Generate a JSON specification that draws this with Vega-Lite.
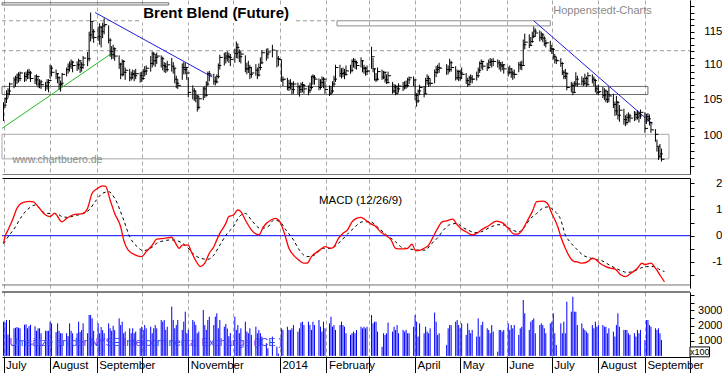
{
"$schema":"https://vega.github.io/schema/vega-lite/v6.json",
"padding":0,
"background":"white",
"bounds":"flush",
"spacing":4,
"config":{"view":{"stroke":null},"axis":{"labelFont":"Liberation Sans","labelColor":"#000","labelOverlap":false},"text":{"font":"Liberation Sans"}},
"datasets":{
"one":[{}],
"p":[
{"d":"2013-07-01","l":102.0,"h":104.6,"c":104.2,"v":2250},
{"d":"2013-07-02","l":103.8,"h":105.3,"c":105.1,"v":2200},
{"d":"2013-07-03","l":104.5,"h":106.3,"c":105.8,"v":2360},
{"d":"2013-07-04","l":105.2,"h":106.6,"c":106.2,"v":1400},
{"d":"2013-07-05","l":105.6,"h":107.4,"c":107.2,"v":2360},
{"d":"2013-07-08","l":106.6,"h":108.2,"c":107.8,"v":1815},
{"d":"2013-07-09","l":106.8,"h":108.4,"c":108.1,"v":1850},
{"d":"2013-07-10","l":107.2,"h":108.7,"c":108.5,"v":1900},
{"d":"2013-07-11","l":107.4,"h":108.9,"c":108.0,"v":1850},
{"d":"2013-07-12","l":107.6,"h":109.0,"c":108.8,"v":1815},
{"d":"2013-07-15","l":107.5,"h":108.9,"c":108.3,"v":2050},
{"d":"2013-07-16","l":107.6,"h":109.0,"c":108.6,"v":2080},
{"d":"2013-07-17","l":107.9,"h":109.3,"c":108.9,"v":1815},
{"d":"2013-07-18","l":107.9,"h":109.4,"c":108.8,"v":1950},
{"d":"2013-07-19","l":107.5,"h":109.1,"c":108.0,"v":2050},
{"d":"2013-07-22","l":107.2,"h":108.5,"c":107.8,"v":1950},
{"d":"2013-07-23","l":107.0,"h":108.6,"c":108.3,"v":1650},
{"d":"2013-07-24","l":106.7,"h":108.2,"c":107.2,"v":1815},
{"d":"2013-07-25","l":106.6,"h":107.9,"c":107.5,"v":1815},
{"d":"2013-07-26","l":106.5,"h":107.8,"c":107.1,"v":1490},
{"d":"2013-07-29","l":106.2,"h":107.5,"c":106.9,"v":1650},
{"d":"2013-07-30","l":106.4,"h":107.9,"c":107.4,"v":1650},
{"d":"2013-07-31","l":106.0,"h":107.9,"c":107.7,"v":1650},
{"d":"2013-08-01","l":108.0,"h":110.0,"c":109.5,"v":2250},
{"d":"2013-08-02","l":108.3,"h":109.9,"c":108.9,"v":2140},
{"d":"2013-08-05","l":107.9,"h":109.3,"c":108.7,"v":1570},
{"d":"2013-08-06","l":107.3,"h":108.8,"c":108.1,"v":2140},
{"d":"2013-08-07","l":106.4,"h":108.3,"c":107.1,"v":1650},
{"d":"2013-08-08","l":106.1,"h":107.7,"c":107.3,"v":1490},
{"d":"2013-08-09","l":106.9,"h":108.8,"c":108.6,"v":1490},
{"d":"2013-08-12","l":108.3,"h":109.6,"c":109.3,"v":1490},
{"d":"2013-08-13","l":108.7,"h":110.2,"c":109.8,"v":1300},
{"d":"2013-08-14","l":109.0,"h":110.5,"c":110.1,"v":2140},
{"d":"2013-08-15","l":109.4,"h":110.8,"c":110.4,"v":1650},
{"d":"2013-08-16","l":108.9,"h":110.6,"c":109.9,"v":1490},
{"d":"2013-08-19","l":109.1,"h":110.5,"c":110.0,"v":1490},
{"d":"2013-08-20","l":109.3,"h":110.9,"c":110.6,"v":2250},
{"d":"2013-08-21","l":108.8,"h":110.6,"c":109.6,"v":1570},
{"d":"2013-08-22","l":109.0,"h":110.4,"c":110.0,"v":1700},
{"d":"2013-08-23","l":109.4,"h":111.3,"c":111.0,"v":2140},
{"d":"2013-08-26","l":109.8,"h":111.9,"c":110.9,"v":1490},
{"d":"2013-08-27","l":110.5,"h":115.0,"c":114.5,"v":2690},
{"d":"2013-08-28","l":113.5,"h":118.0,"c":116.6,"v":2690},
{"d":"2013-08-29","l":113.9,"h":116.5,"c":115.0,"v":2470},
{"d":"2013-08-30","l":113.3,"h":115.4,"c":114.1,"v":1650},
{"d":"2013-09-02","l":113.6,"h":115.8,"c":114.2,"v":2140},
{"d":"2013-09-03","l":113.0,"h":116.3,"c":115.7,"v":1490},
{"d":"2013-09-04","l":112.6,"h":115.9,"c":115.0,"v":1900},
{"d":"2013-09-05","l":114.0,"h":116.4,"c":115.9,"v":1700},
{"d":"2013-09-06","l":114.6,"h":117.1,"c":116.1,"v":1490},
{"d":"2013-09-09","l":113.2,"h":116.0,"c":113.7,"v":2140},
{"d":"2013-09-10","l":111.2,"h":114.0,"c":112.0,"v":1815},
{"d":"2013-09-11","l":110.8,"h":112.8,"c":111.5,"v":1650},
{"d":"2013-09-12","l":110.9,"h":113.0,"c":112.4,"v":1980},
{"d":"2013-09-13","l":110.6,"h":112.6,"c":111.3,"v":1700},
{"d":"2013-09-16","l":109.4,"h":111.4,"c":110.1,"v":2470},
{"d":"2013-09-17","l":107.9,"h":110.3,"c":108.6,"v":2030},
{"d":"2013-09-18","l":108.3,"h":110.8,"c":110.5,"v":2250},
{"d":"2013-09-19","l":108.4,"h":110.7,"c":108.9,"v":1490},
{"d":"2013-09-20","l":107.8,"h":109.6,"c":109.2,"v":1600},
{"d":"2013-09-23","l":107.6,"h":109.4,"c":108.1,"v":1815},
{"d":"2013-09-24","l":107.7,"h":109.0,"c":108.6,"v":1490},
{"d":"2013-09-25","l":107.9,"h":109.3,"c":108.7,"v":1815},
{"d":"2013-09-26","l":107.6,"h":109.2,"c":108.4,"v":1490},
{"d":"2013-09-27","l":107.9,"h":109.4,"c":108.7,"v":1600},
{"d":"2013-09-30","l":107.4,"h":108.9,"c":108.4,"v":1815},
{"d":"2013-10-01","l":107.5,"h":109.0,"c":108.0,"v":1920},
{"d":"2013-10-02","l":107.8,"h":109.4,"c":109.0,"v":1710},
{"d":"2013-10-03","l":108.3,"h":109.8,"c":109.1,"v":2030},
{"d":"2013-10-04","l":108.5,"h":109.9,"c":109.5,"v":1815},
{"d":"2013-10-07","l":109.0,"h":111.3,"c":110.2,"v":1920},
{"d":"2013-10-08","l":109.6,"h":112.0,"c":111.6,"v":1490},
{"d":"2013-10-09","l":109.9,"h":111.9,"c":110.6,"v":1815},
{"d":"2013-10-10","l":109.7,"h":111.6,"c":111.1,"v":2030},
{"d":"2013-10-11","l":110.1,"h":111.8,"c":111.3,"v":1815},
{"d":"2013-10-14","l":109.6,"h":111.4,"c":110.9,"v":2360},
{"d":"2013-10-15","l":109.2,"h":111.2,"c":109.9,"v":2250},
{"d":"2013-10-16","l":108.9,"h":110.4,"c":109.7,"v":2360},
{"d":"2013-10-17","l":108.8,"h":110.3,"c":109.3,"v":1710},
{"d":"2013-10-18","l":109.0,"h":110.6,"c":110.0,"v":1920},
{"d":"2013-10-21","l":109.0,"h":111.0,"c":109.8,"v":3240},
{"d":"2013-10-22","l":108.7,"h":110.4,"c":109.5,"v":2360},
{"d":"2013-10-23","l":107.3,"h":109.6,"c":107.9,"v":1815},
{"d":"2013-10-24","l":106.6,"h":108.4,"c":107.3,"v":2030},
{"d":"2013-10-25","l":106.5,"h":107.9,"c":107.0,"v":2360},
{"d":"2013-10-28","l":107.8,"h":110.2,"c":109.6,"v":1710},
{"d":"2013-10-29","l":108.6,"h":110.4,"c":109.3,"v":2250},
{"d":"2013-10-30","l":108.6,"h":110.3,"c":109.6,"v":2910},
{"d":"2013-10-31","l":107.8,"h":109.7,"c":108.8,"v":1490},
{"d":"2013-11-01","l":105.3,"h":108.2,"c":106.0,"v":1710},
{"d":"2013-11-04","l":105.0,"h":107.0,"c":106.2,"v":2360},
{"d":"2013-11-05","l":104.8,"h":106.6,"c":105.2,"v":2250},
{"d":"2013-11-06","l":104.6,"h":106.3,"c":105.5,"v":2030},
{"d":"2013-11-07","l":103.3,"h":105.6,"c":103.9,"v":1490},
{"d":"2013-11-08","l":103.6,"h":105.5,"c":105.1,"v":1600},
{"d":"2013-11-11","l":104.9,"h":106.8,"c":106.5,"v":3020},
{"d":"2013-11-12","l":105.2,"h":106.9,"c":105.6,"v":2030},
{"d":"2013-11-13","l":105.4,"h":107.6,"c":107.2,"v":1710},
{"d":"2013-11-14","l":106.9,"h":109.0,"c":108.7,"v":2360},
{"d":"2013-11-15","l":107.6,"h":109.1,"c":108.5,"v":2580},
{"d":"2013-11-18","l":107.1,"h":108.7,"c":107.6,"v":2030},
{"d":"2013-11-19","l":107.0,"h":108.3,"c":107.5,"v":2580},
{"d":"2013-11-20","l":107.3,"h":108.6,"c":108.3,"v":2800},
{"d":"2013-11-21","l":108.0,"h":110.2,"c":109.9,"v":1815},
{"d":"2013-11-22","l":109.3,"h":111.5,"c":111.1,"v":2360},
{"d":"2013-11-25","l":109.9,"h":111.8,"c":111.0,"v":1920},
{"d":"2013-11-26","l":110.2,"h":111.9,"c":111.3,"v":2100},
{"d":"2013-11-27","l":110.5,"h":112.0,"c":111.2,"v":1800},
{"d":"2013-11-28","l":110.3,"h":111.8,"c":111.1,"v":1300},
{"d":"2013-11-29","l":109.8,"h":111.6,"c":110.8,"v":1500},
{"d":"2013-12-02","l":110.3,"h":112.4,"c":111.7,"v":2580},
{"d":"2013-12-03","l":111.0,"h":113.5,"c":112.6,"v":1710},
{"d":"2013-12-04","l":110.9,"h":113.2,"c":111.9,"v":2030},
{"d":"2013-12-05","l":110.4,"h":112.3,"c":111.2,"v":1490},
{"d":"2013-12-06","l":110.2,"h":112.0,"c":111.6,"v":1815},
{"d":"2013-12-09","l":108.9,"h":111.4,"c":109.4,"v":2250},
{"d":"2013-12-10","l":108.6,"h":110.3,"c":109.4,"v":1600},
{"d":"2013-12-11","l":108.8,"h":110.6,"c":109.6,"v":1490},
{"d":"2013-12-12","l":107.9,"h":110.0,"c":108.6,"v":1815},
{"d":"2013-12-13","l":108.1,"h":109.7,"c":108.8,"v":1380},
{"d":"2013-12-16","l":108.4,"h":110.1,"c":109.2,"v":1920},
{"d":"2013-12-17","l":107.9,"h":109.6,"c":108.5,"v":1490},
{"d":"2013-12-18","l":108.3,"h":110.2,"c":109.6,"v":1710},
{"d":"2013-12-19","l":109.2,"h":111.1,"c":110.3,"v":1490},
{"d":"2013-12-20","l":110.1,"h":112.2,"c":111.8,"v":1270},
{"d":"2013-12-23","l":110.6,"h":112.4,"c":111.6,"v":830},
{"d":"2013-12-24","l":110.9,"h":112.5,"c":111.9,"v":500},
{"d":"2013-12-27","l":111.1,"h":113.0,"c":112.2,"v":1270},
{"d":"2013-12-30","l":109.6,"h":112.2,"c":110.9,"v":610},
{"d":"2013-12-31","l":109.8,"h":111.3,"c":110.8,"v":150},
{"d":"2014-01-02","l":107.5,"h":110.8,"c":107.8,"v":1815},
{"d":"2014-01-03","l":106.9,"h":108.3,"c":107.9,"v":1710},
{"d":"2014-01-06","l":106.3,"h":108.1,"c":106.7,"v":1920},
{"d":"2014-01-07","l":106.2,"h":107.8,"c":107.3,"v":1710},
{"d":"2014-01-08","l":106.4,"h":107.9,"c":107.2,"v":1710},
{"d":"2014-01-09","l":105.7,"h":107.4,"c":106.4,"v":1815},
{"d":"2014-01-10","l":105.8,"h":107.6,"c":107.2,"v":2030},
{"d":"2014-01-13","l":105.7,"h":107.4,"c":106.8,"v":1600},
{"d":"2014-01-14","l":105.4,"h":107.0,"c":106.4,"v":1815},
{"d":"2014-01-15","l":105.9,"h":107.4,"c":107.1,"v":2190},
{"d":"2014-01-16","l":106.0,"h":107.5,"c":107.0,"v":2250},
{"d":"2014-01-17","l":105.8,"h":107.2,"c":106.5,"v":2030},
{"d":"2014-01-20","l":105.6,"h":107.0,"c":106.3,"v":2250},
{"d":"2014-01-21","l":105.9,"h":107.4,"c":106.7,"v":2030},
{"d":"2014-01-22","l":106.4,"h":108.4,"c":108.3,"v":1710},
{"d":"2014-01-23","l":107.1,"h":108.6,"c":108.1,"v":2250},
{"d":"2014-01-24","l":107.1,"h":108.5,"c":107.9,"v":2030},
{"d":"2014-01-27","l":106.3,"h":108.0,"c":106.7,"v":2360},
{"d":"2014-01-28","l":106.4,"h":107.9,"c":107.4,"v":1920},
{"d":"2014-01-29","l":106.8,"h":108.3,"c":107.9,"v":1600},
{"d":"2014-01-30","l":106.6,"h":108.2,"c":107.9,"v":2250},
{"d":"2014-01-31","l":105.8,"h":107.7,"c":106.4,"v":1815},
{"d":"2014-02-03","l":105.5,"h":107.0,"c":105.9,"v":2140},
{"d":"2014-02-04","l":105.6,"h":106.9,"c":106.2,"v":2580},
{"d":"2014-02-05","l":105.9,"h":107.6,"c":107.2,"v":1920},
{"d":"2014-02-06","l":106.8,"h":108.4,"c":107.9,"v":2030},
{"d":"2014-02-07","l":107.5,"h":110.0,"c":109.6,"v":1710},
{"d":"2014-02-10","l":108.2,"h":110.0,"c":108.7,"v":2030},
{"d":"2014-02-11","l":108.0,"h":109.5,"c":108.7,"v":2250},
{"d":"2014-02-12","l":108.2,"h":109.6,"c":108.8,"v":2030},
{"d":"2014-02-13","l":107.9,"h":109.4,"c":108.6,"v":1920},
{"d":"2014-02-14","l":108.4,"h":109.9,"c":109.1,"v":1490},
{"d":"2014-02-17","l":108.7,"h":110.0,"c":109.2,"v":1380},
{"d":"2014-02-18","l":108.9,"h":110.8,"c":110.5,"v":1490},
{"d":"2014-02-19","l":109.6,"h":111.0,"c":110.5,"v":1600},
{"d":"2014-02-20","l":109.4,"h":110.9,"c":110.3,"v":1490},
{"d":"2014-02-21","l":109.3,"h":110.6,"c":109.9,"v":1700},
{"d":"2014-02-24","l":109.6,"h":111.1,"c":110.6,"v":1920},
{"d":"2014-02-25","l":108.9,"h":110.7,"c":109.5,"v":1815},
{"d":"2014-02-26","l":108.7,"h":110.0,"c":109.5,"v":1920},
{"d":"2014-02-27","l":108.4,"h":109.7,"c":109.0,"v":1815},
{"d":"2014-02-28","l":108.5,"h":109.9,"c":109.1,"v":1920},
{"d":"2014-03-03","l":109.4,"h":112.7,"c":111.2,"v":2690},
{"d":"2014-03-04","l":108.9,"h":111.0,"c":109.4,"v":2140},
{"d":"2014-03-05","l":107.7,"h":109.5,"c":107.8,"v":2250},
{"d":"2014-03-06","l":107.5,"h":108.8,"c":107.9,"v":2250},
{"d":"2014-03-07","l":107.7,"h":109.6,"c":109.0,"v":1600},
{"d":"2014-03-10","l":107.8,"h":109.3,"c":108.2,"v":600},
{"d":"2014-03-11","l":107.9,"h":109.1,"c":108.9,"v":1490},
{"d":"2014-03-12","l":107.4,"h":109.0,"c":107.8,"v":1380},
{"d":"2014-03-13","l":107.2,"h":108.6,"c":107.4,"v":1490},
{"d":"2014-03-14","l":107.3,"h":109.0,"c":108.4,"v":2190},
{"d":"2014-03-17","l":105.8,"h":107.5,"c":106.2,"v":1600},
{"d":"2014-03-18","l":105.9,"h":107.2,"c":106.8,"v":1920},
{"d":"2014-03-19","l":105.6,"h":107.1,"c":105.9,"v":1710},
{"d":"2014-03-20","l":105.7,"h":107.0,"c":106.5,"v":2030},
{"d":"2014-03-21","l":106.0,"h":107.3,"c":106.9,"v":1490},
{"d":"2014-03-24","l":106.2,"h":107.5,"c":106.8,"v":1710},
{"d":"2014-03-25","l":106.4,"h":107.6,"c":107.0,"v":1600},
{"d":"2014-03-26","l":106.5,"h":107.7,"c":107.0,"v":1710},
{"d":"2014-03-27","l":106.7,"h":108.1,"c":107.8,"v":1490},
{"d":"2014-03-28","l":107.2,"h":108.3,"c":108.1,"v":1490},
{"d":"2014-03-31","l":106.9,"h":108.3,"c":107.8,"v":1920},
{"d":"2014-04-01","l":104.9,"h":107.8,"c":105.6,"v":2690},
{"d":"2014-04-02","l":104.0,"h":105.9,"c":104.8,"v":2250},
{"d":"2014-04-03","l":104.5,"h":106.4,"c":106.2,"v":1270},
{"d":"2014-04-04","l":105.6,"h":107.1,"c":106.7,"v":2140},
{"d":"2014-04-07","l":105.3,"h":106.9,"c":105.8,"v":1490},
{"d":"2014-04-08","l":105.8,"h":108.1,"c":107.7,"v":1920},
{"d":"2014-04-09","l":107.1,"h":108.6,"c":108.0,"v":1600},
{"d":"2014-04-10","l":106.8,"h":108.4,"c":107.3,"v":1490},
{"d":"2014-04-11","l":106.9,"h":108.0,"c":107.3,"v":1815},
{"d":"2014-04-14","l":107.3,"h":109.3,"c":108.9,"v":2850},
{"d":"2014-04-15","l":108.2,"h":109.8,"c":109.3,"v":2250},
{"d":"2014-04-16","l":108.7,"h":110.0,"c":109.6,"v":1380},
{"d":"2014-04-17","l":108.8,"h":110.3,"c":109.5,"v":1490},
{"d":"2014-04-22","l":108.5,"h":110.1,"c":109.3,"v":720},
{"d":"2014-04-23","l":108.6,"h":109.9,"c":109.3,"v":1815},
{"d":"2014-04-24","l":108.9,"h":110.9,"c":110.3,"v":2030},
{"d":"2014-04-25","l":109.0,"h":110.6,"c":109.6,"v":2030},
{"d":"2014-04-28","l":107.7,"h":109.8,"c":108.1,"v":2250},
{"d":"2014-04-29","l":107.8,"h":109.3,"c":109.0,"v":2360},
{"d":"2014-04-30","l":107.6,"h":109.2,"c":108.1,"v":2030},
{"d":"2014-05-01","l":107.7,"h":109.3,"c":108.8,"v":1815},
{"d":"2014-05-02","l":107.9,"h":109.6,"c":108.6,"v":2140},
{"d":"2014-05-05","l":107.2,"h":108.8,"c":107.7,"v":1380},
{"d":"2014-05-06","l":106.8,"h":108.1,"c":107.1,"v":2140},
{"d":"2014-05-07","l":107.0,"h":108.4,"c":108.1,"v":1710},
{"d":"2014-05-08","l":107.3,"h":108.6,"c":107.9,"v":1490},
{"d":"2014-05-09","l":107.3,"h":108.5,"c":107.9,"v":1710},
{"d":"2014-05-12","l":107.7,"h":109.0,"c":108.4,"v":1270},
{"d":"2014-05-13","l":108.1,"h":109.6,"c":109.2,"v":2470},
{"d":"2014-05-14","l":108.8,"h":110.5,"c":110.2,"v":1270},
{"d":"2014-05-15","l":109.4,"h":110.8,"c":110.5,"v":2030},
{"d":"2014-05-16","l":109.2,"h":110.6,"c":109.8,"v":2250},
{"d":"2014-05-19","l":109.1,"h":110.3,"c":109.6,"v":1815},
{"d":"2014-05-20","l":109.4,"h":110.8,"c":110.4,"v":1710},
{"d":"2014-05-21","l":109.8,"h":111.0,"c":110.5,"v":1490},
{"d":"2014-05-22","l":109.6,"h":110.9,"c":110.5,"v":2030},
{"d":"2014-05-23","l":109.8,"h":111.0,"c":110.5,"v":1600},
{"d":"2014-05-26","l":109.6,"h":110.8,"c":110.3,"v":280},
{"d":"2014-05-27","l":109.3,"h":110.7,"c":110.0,"v":1710},
{"d":"2014-05-28","l":109.0,"h":110.4,"c":109.8,"v":1710},
{"d":"2014-05-29","l":109.2,"h":110.5,"c":110.0,"v":1600},
{"d":"2014-05-30","l":108.7,"h":110.1,"c":109.4,"v":1710},
{"d":"2014-06-02","l":108.3,"h":109.7,"c":108.9,"v":2140},
{"d":"2014-06-03","l":108.6,"h":109.9,"c":109.4,"v":1710},
{"d":"2014-06-04","l":108.1,"h":109.5,"c":108.8,"v":2030},
{"d":"2014-06-05","l":107.8,"h":109.2,"c":108.6,"v":1815},
{"d":"2014-06-06","l":108.0,"h":109.3,"c":108.6,"v":2030},
{"d":"2014-06-09","l":108.9,"h":110.4,"c":110.0,"v":1380},
{"d":"2014-06-10","l":109.3,"h":110.5,"c":109.9,"v":1815},
{"d":"2014-06-11","l":109.2,"h":110.6,"c":109.9,"v":1920},
{"d":"2014-06-12","l":109.9,"h":113.8,"c":113.0,"v":3680},
{"d":"2014-06-13","l":112.3,"h":114.7,"c":113.4,"v":2800},
{"d":"2014-06-16","l":112.5,"h":114.6,"c":112.9,"v":1710},
{"d":"2014-06-17","l":112.8,"h":114.2,"c":113.5,"v":2250},
{"d":"2014-06-18","l":113.3,"h":115.0,"c":114.3,"v":2360},
{"d":"2014-06-19","l":114.0,"h":115.8,"c":115.1,"v":2470},
{"d":"2014-06-20","l":114.2,"h":115.5,"c":114.8,"v":1490},
{"d":"2014-06-23","l":113.5,"h":115.2,"c":114.1,"v":2030},
{"d":"2014-06-24","l":113.7,"h":115.0,"c":114.5,"v":2140},
{"d":"2014-06-25","l":113.4,"h":114.8,"c":114.0,"v":2030},
{"d":"2014-06-26","l":112.8,"h":114.3,"c":113.2,"v":1815},
{"d":"2014-06-27","l":112.6,"h":113.8,"c":113.3,"v":1490},
{"d":"2014-06-30","l":111.9,"h":113.6,"c":112.4,"v":2140},
{"d":"2014-07-01","l":111.6,"h":113.0,"c":112.3,"v":2250},
{"d":"2014-07-02","l":110.8,"h":112.5,"c":111.2,"v":2800},
{"d":"2014-07-03","l":110.2,"h":111.6,"c":110.7,"v":1490},
{"d":"2014-07-04","l":110.1,"h":111.2,"c":110.6,"v":720},
{"d":"2014-07-07","l":109.7,"h":111.0,"c":110.2,"v":2140},
{"d":"2014-07-08","l":108.5,"h":110.4,"c":108.9,"v":1490},
{"d":"2014-07-09","l":107.9,"h":109.2,"c":108.3,"v":2250},
{"d":"2014-07-10","l":107.9,"h":109.4,"c":108.7,"v":1490},
{"d":"2014-07-11","l":106.3,"h":108.9,"c":106.7,"v":3566},
{"d":"2014-07-14","l":106.0,"h":107.5,"c":107.0,"v":2908},
{"d":"2014-07-15","l":105.6,"h":107.4,"c":106.0,"v":3895},
{"d":"2014-07-16","l":105.9,"h":107.6,"c":107.2,"v":2908},
{"d":"2014-07-17","l":106.9,"h":108.9,"c":107.9,"v":2908},
{"d":"2014-07-18","l":106.8,"h":108.4,"c":107.2,"v":2030},
{"d":"2014-07-21","l":107.0,"h":108.3,"c":107.6,"v":2140},
{"d":"2014-07-22","l":106.9,"h":108.1,"c":107.3,"v":1815},
{"d":"2014-07-23","l":107.0,"h":108.7,"c":108.0,"v":1710},
{"d":"2014-07-24","l":106.8,"h":108.3,"c":107.1,"v":1600},
{"d":"2014-07-25","l":107.0,"h":108.9,"c":108.4,"v":1490},
{"d":"2014-07-28","l":107.3,"h":108.6,"c":107.9,"v":2030},
{"d":"2014-07-29","l":106.9,"h":108.3,"c":107.7,"v":1815},
{"d":"2014-07-30","l":106.0,"h":107.9,"c":106.5,"v":2250},
{"d":"2014-07-31","l":105.7,"h":107.0,"c":106.0,"v":1920},
{"d":"2014-08-01","l":105.6,"h":107.1,"c":106.1,"v":2030},
{"d":"2014-08-04","l":105.2,"h":106.8,"c":105.6,"v":2030},
{"d":"2014-08-05","l":104.9,"h":106.6,"c":106.2,"v":1920},
{"d":"2014-08-06","l":104.6,"h":106.4,"c":105.0,"v":1920},
{"d":"2014-08-07","l":104.5,"h":106.2,"c":105.7,"v":1490},
{"d":"2014-08-08","l":104.6,"h":106.8,"c":105.5,"v":1815},
{"d":"2014-08-11","l":103.8,"h":105.8,"c":104.3,"v":1600},
{"d":"2014-08-12","l":102.7,"h":104.7,"c":103.4,"v":1270},
{"d":"2014-08-13","l":102.8,"h":105.5,"c":104.6,"v":2030},
{"d":"2014-08-14","l":102.2,"h":104.8,"c":102.8,"v":2800},
{"d":"2014-08-15","l":101.9,"h":104.2,"c":103.5,"v":1920},
{"d":"2014-08-18","l":101.5,"h":103.7,"c":102.2,"v":1710},
{"d":"2014-08-19","l":101.3,"h":102.8,"c":101.8,"v":1710},
{"d":"2014-08-20","l":101.5,"h":103.0,"c":102.5,"v":1710},
{"d":"2014-08-21","l":101.9,"h":103.2,"c":102.7,"v":1490},
{"d":"2014-08-22","l":101.8,"h":103.0,"c":102.4,"v":1380},
{"d":"2014-08-25","l":102.0,"h":103.4,"c":102.9,"v":1490},
{"d":"2014-08-26","l":102.1,"h":103.3,"c":102.5,"v":1270},
{"d":"2014-08-27","l":102.2,"h":103.5,"c":103.0,"v":1710},
{"d":"2014-08-28","l":101.8,"h":103.3,"c":102.7,"v":1490},
{"d":"2014-08-29","l":102.3,"h":103.6,"c":103.2,"v":1710},
{"d":"2014-09-01","l":100.4,"h":103.2,"c":101.0,"v":1050},
{"d":"2014-09-02","l":101.6,"h":103.0,"c":102.6,"v":2360},
{"d":"2014-09-03","l":101.9,"h":103.1,"c":102.3,"v":2360},
{"d":"2014-09-04","l":101.4,"h":102.9,"c":101.8,"v":2030},
{"d":"2014-09-05","l":100.4,"h":101.9,"c":100.8,"v":1920},
{"d":"2014-09-08","l":99.2,"h":100.9,"c":100.2,"v":1815},
{"d":"2014-09-09","l":97.9,"h":99.5,"c":98.6,"v":1710},
{"d":"2014-09-10","l":96.8,"h":98.5,"c":97.3,"v":1815},
{"d":"2014-09-11","l":97.0,"h":98.9,"c":97.6,"v":1490},
{"d":"2014-09-12","l":96.6,"h":98.3,"c":96.9,"v":1050}
],
"m":[
{"d":"2013-07-01","y":-0.29},{"d":"2013-07-02","y":-0.04},{"d":"2013-07-04","y":0.22},{"d":"2013-07-07","y":0.6},{"d":"2013-07-10","y":1.05},{"d":"2013-07-13","y":1.24},{"d":"2013-07-18","y":1.31},{"d":"2013-07-21","y":1.29},{"d":"2013-07-24","y":1.11},{"d":"2013-07-29","y":0.79},{"d":"2013-08-01","y":0.73},{"d":"2013-08-04","y":0.85},{"d":"2013-08-09","y":0.53},{"d":"2013-08-12","y":0.66},{"d":"2013-08-16","y":0.79},{"d":"2013-08-23","y":0.85},{"d":"2013-08-26","y":1.05},{"d":"2013-08-29","y":1.62},{"d":"2013-09-01","y":1.78},{"d":"2013-09-05","y":1.9},{"d":"2013-09-07","y":1.88},{"d":"2013-09-10","y":1.36},{"d":"2013-09-13","y":0.85},{"d":"2013-09-17","y":0.34},{"d":"2013-09-19","y":-0.16},{"d":"2013-09-22","y":-0.55},{"d":"2013-09-27","y":-0.74},{"d":"2013-10-01","y":-0.8},{"d":"2013-10-04","y":-0.61},{"d":"2013-10-08","y":-0.36},{"d":"2013-10-11","y":-0.13},{"d":"2013-10-16","y":-0.1},{"d":"2013-10-21","y":-0.06},{"d":"2013-10-23","y":-0.23},{"d":"2013-10-26","y":-0.48},{"d":"2013-10-28","y":-0.36},{"d":"2013-11-01","y":-0.36},{"d":"2013-11-03","y":-0.61},{"d":"2013-11-07","y":-1.05},{"d":"2013-11-09","y":-1.18},{"d":"2013-11-12","y":-1.05},{"d":"2013-11-15","y":-0.67},{"d":"2013-11-18","y":-0.42},{"d":"2013-11-20","y":-0.16},{"d":"2013-11-22","y":0.09},{"d":"2013-11-26","y":0.47},{"d":"2013-11-28","y":0.73},{"d":"2013-12-01","y":0.79},{"d":"2013-12-04","y":0.98},{"d":"2013-12-06","y":0.92},{"d":"2013-12-09","y":0.6},{"d":"2013-12-13","y":0.22},{"d":"2013-12-18","y":0.03},{"d":"2013-12-21","y":0.34},{"d":"2013-12-26","y":0.6},{"d":"2013-12-29","y":0.66},{"d":"2014-01-01","y":0.53},{"d":"2014-01-04","y":0.09},{"d":"2014-01-07","y":-0.48},{"d":"2014-01-10","y":-0.74},{"d":"2014-01-13","y":-0.9},{"d":"2014-01-17","y":-1.05},{"d":"2014-01-19","y":-1.05},{"d":"2014-01-22","y":-0.8},{"d":"2014-01-27","y":-0.57},{"d":"2014-01-31","y":-0.42},{"d":"2014-02-04","y":-0.48},{"d":"2014-02-06","y":-0.42},{"d":"2014-02-09","y":-0.1},{"d":"2014-02-12","y":0.09},{"d":"2014-02-15","y":0.22},{"d":"2014-02-18","y":0.53},{"d":"2014-02-21","y":0.66},{"d":"2014-02-24","y":0.7},{"d":"2014-02-27","y":0.6},{"d":"2014-03-02","y":0.47},{"d":"2014-03-06","y":0.34},{"d":"2014-03-09","y":0.15},{"d":"2014-03-12","y":0.03},{"d":"2014-03-16","y":-0.16},{"d":"2014-03-19","y":-0.48},{"d":"2014-03-23","y":-0.5},{"d":"2014-03-27","y":-0.48},{"d":"2014-03-30","y":-0.32},{"d":"2014-04-01","y":-0.55},{"d":"2014-04-03","y":-0.57},{"d":"2014-04-07","y":-0.48},{"d":"2014-04-10","y":-0.36},{"d":"2014-04-12","y":-0.16},{"d":"2014-04-16","y":0.28},{"d":"2014-04-19","y":0.53},{"d":"2014-04-22","y":0.57},{"d":"2014-04-26","y":0.63},{"d":"2014-04-29","y":0.42},{"d":"2014-05-02","y":0.25},{"d":"2014-05-05","y":0.15},{"d":"2014-05-09","y":0.03},{"d":"2014-05-12","y":0.09},{"d":"2014-05-15","y":0.22},{"d":"2014-05-20","y":0.38},{"d":"2014-05-25","y":0.56},{"d":"2014-05-29","y":0.5},{"d":"2014-06-02","y":0.28},{"d":"2014-06-06","y":0.06},{"d":"2014-06-08","y":0.06},{"d":"2014-06-11","y":0.19},{"d":"2014-06-15","y":0.6},{"d":"2014-06-18","y":0.92},{"d":"2014-06-21","y":1.3},{"d":"2014-06-25","y":1.32},{"d":"2014-06-28","y":1.24},{"d":"2014-07-01","y":0.85},{"d":"2014-07-05","y":0.34},{"d":"2014-07-07","y":-0.04},{"d":"2014-07-10","y":-0.48},{"d":"2014-07-13","y":-0.82},{"d":"2014-07-16","y":-0.99},{"d":"2014-07-18","y":-1.0},{"d":"2014-07-21","y":-1.05},{"d":"2014-07-25","y":-0.99},{"d":"2014-07-28","y":-0.86},{"d":"2014-07-30","y":-0.9},{"d":"2014-08-02","y":-1.05},{"d":"2014-08-06","y":-1.18},{"d":"2014-08-09","y":-1.24},{"d":"2014-08-12","y":-1.27},{"d":"2014-08-16","y":-1.5},{"d":"2014-08-19","y":-1.56},{"d":"2014-08-22","y":-1.46},{"d":"2014-08-27","y":-1.24},{"d":"2014-08-30","y":-1.05},{"d":"2014-09-01","y":-1.1},{"d":"2014-09-05","y":-1.05},{"d":"2014-09-08","y":-1.24},{"d":"2014-09-11","y":-1.5},{"d":"2014-09-14","y":-1.76}
],
"s":[
{"d":"2013-07-01","y":-0.3},{"d":"2013-07-04","y":-0.05},{"d":"2013-07-09","y":0.34},{"d":"2013-07-13","y":0.73},{"d":"2013-07-18","y":1.05},{"d":"2013-07-22","y":1.17},{"d":"2013-07-25","y":1.05},{"d":"2013-07-29","y":0.85},{"d":"2013-08-02","y":0.85},{"d":"2013-08-05","y":0.85},{"d":"2013-08-09","y":0.73},{"d":"2013-08-13","y":0.7},{"d":"2013-08-17","y":0.76},{"d":"2013-08-23","y":0.85},{"d":"2013-08-27","y":0.98},{"d":"2013-08-31","y":1.3},{"d":"2013-09-05","y":1.62},{"d":"2013-09-09","y":1.68},{"d":"2013-09-13","y":1.43},{"d":"2013-09-19","y":0.6},{"d":"2013-09-23","y":-0.04},{"d":"2013-09-28","y":-0.42},{"d":"2013-10-02","y":-0.57},{"d":"2013-10-07","y":-0.48},{"d":"2013-10-11","y":-0.29},{"d":"2013-10-16","y":-0.19},{"d":"2013-10-21","y":-0.16},{"d":"2013-10-27","y":-0.25},{"d":"2013-10-31","y":-0.42},{"d":"2013-11-04","y":-0.67},{"d":"2013-11-09","y":-0.86},{"d":"2013-11-14","y":-0.9},{"d":"2013-11-18","y":-0.74},{"d":"2013-11-22","y":-0.36},{"d":"2013-11-27","y":0.09},{"d":"2013-12-01","y":0.34},{"d":"2013-12-05","y":0.73},{"d":"2013-12-09","y":0.85},{"d":"2013-12-13","y":0.6},{"d":"2013-12-19","y":0.28},{"d":"2013-12-24","y":0.34},{"d":"2013-12-28","y":0.6},{"d":"2014-01-01","y":0.53},{"d":"2014-01-05","y":0.22},{"d":"2014-01-10","y":-0.16},{"d":"2014-01-14","y":-0.55},{"d":"2014-01-19","y":-0.8},{"d":"2014-01-24","y":-0.74},{"d":"2014-01-30","y":-0.48},{"d":"2014-02-04","y":-0.48},{"d":"2014-02-09","y":-0.29},{"d":"2014-02-15","y":0.06},{"d":"2014-02-19","y":0.28},{"d":"2014-02-25","y":0.53},{"d":"2014-03-02","y":0.53},{"d":"2014-03-08","y":0.28},{"d":"2014-03-13","y":0.03},{"d":"2014-03-19","y":-0.23},{"d":"2014-03-23","y":-0.44},{"d":"2014-03-28","y":-0.5},{"d":"2014-04-03","y":-0.55},{"d":"2014-04-08","y":-0.55},{"d":"2014-04-11","y":-0.36},{"d":"2014-04-16","y":-0.08},{"d":"2014-04-20","y":0.22},{"d":"2014-04-24","y":0.42},{"d":"2014-04-29","y":0.47},{"d":"2014-05-02","y":0.34},{"d":"2014-05-06","y":0.22},{"d":"2014-05-11","y":0.12},{"d":"2014-05-15","y":0.15},{"d":"2014-05-21","y":0.32},{"d":"2014-05-26","y":0.42},{"d":"2014-05-31","y":0.4},{"d":"2014-06-04","y":0.24},{"d":"2014-06-09","y":0.15},{"d":"2014-06-13","y":0.34},{"d":"2014-06-16","y":0.6},{"d":"2014-06-21","y":0.85},{"d":"2014-06-26","y":1.08},{"d":"2014-06-29","y":1.1},{"d":"2014-07-02","y":0.98},{"d":"2014-07-07","y":0.6},{"d":"2014-07-10","y":0.03},{"d":"2014-07-13","y":-0.23},{"d":"2014-07-17","y":-0.48},{"d":"2014-07-22","y":-0.75},{"d":"2014-07-27","y":-0.86},{"d":"2014-07-31","y":-0.92},{"d":"2014-08-03","y":-0.95},{"d":"2014-08-09","y":-1.14},{"d":"2014-08-16","y":-1.33},{"d":"2014-08-20","y":-1.4},{"d":"2014-08-24","y":-1.37},{"d":"2014-08-29","y":-1.24},{"d":"2014-09-02","y":-1.18},{"d":"2014-09-07","y":-1.18},{"d":"2014-09-11","y":-1.3},{"d":"2014-09-14","y":-1.37}
],
"hd":[
{"d":"2013-06-30","e":"2014-02-08","y":116.7},
{"d":"2013-06-30","e":"2014-10-01","y":112.1}
],
"bx":[
{"d":"2013-06-30","e":"2013-10-19","y":119.2,"y2":119.55,"k":"a"},
{"d":"2014-02-08","e":"2014-06-30","y":115.9,"y2":116.7,"k":"b"},
{"d":"2013-06-30","e":"2014-09-03","y":105.7,"y2":106.85,"k":"a"},
{"d":"2013-06-30","e":"2014-09-17","y":96.95,"y2":100.2,"k":"c"}
],
"wb":[{"d":"2013-10-01","e":"2014-01-10","y":116.4,"y2":119.0}],
"tl":[
{"g":"b1","d":"2013-08-31","y":118.0},{"g":"b1","d":"2013-11-17","y":108.2},
{"g":"gr","d":"2013-06-30","y":101.0},{"g":"gr","d":"2013-09-11","y":111.7},
{"g":"b2","d":"2014-06-19","y":116.7},{"g":"b2","d":"2014-09-06","y":101.6}
]
},
"vconcat":[
{
"width":688,"height":174,
"layer":[
{"data":{"name":"hd"},"mark":{"type":"rule","color":"#999999","strokeDash":[4,3],"strokeWidth":1},
 "encoding":{
  "x":{"field":"d","type":"temporal","scale":{"domain":[{"year":2013,"month":6,"date":30},{"year":2014,"month":10,"date":1}],"nice":false},
   "axis":{"values":[{"year":2013,"month":7,"date":1},{"year":2013,"month":8,"date":1},{"year":2013,"month":9,"date":1},{"year":2013,"month":10,"date":1},{"year":2013,"month":11,"date":1},{"year":2013,"month":12,"date":1},{"year":2014,"month":1,"date":1},{"year":2014,"month":2,"date":1},{"year":2014,"month":3,"date":1},{"year":2014,"month":4,"date":1},{"year":2014,"month":5,"date":1},{"year":2014,"month":6,"date":1},{"year":2014,"month":7,"date":1},{"year":2014,"month":8,"date":1},{"year":2014,"month":9,"date":1},{"year":2014,"month":10,"date":1}],
    "tickCount":100,"grid":true,"gridDash":[4,3],"gridColor":"#a8a8a8","labels":false,"ticks":false,"domain":true,"domainColor":"#7a7a7a","title":null}},
  "x2":{"field":"e"},
  "y":{"field":"y","type":"quantitative","scale":{"type":"log","domain":[95,120],"nice":false,"zero":false},
   "axis":{"orient":"right","values":[96,97,98,99,100,101,102,103,104,105,106,107,108,109,110,111,112,113,114,115,116,117,118,119],"tickCount":100,
    "labelExpr":"datum.value % 5 == 0 ? '' + datum.value : ''","labelOverlap":false,"grid":false,"tickSize":4,"labelPadding":28,"labelAlign":"right","labelFontSize":11.5,"domainColor":"#000","tickColor":"#000","title":null}}
 }},
{"data":{"name":"bx"},"mark":{"type":"rect","fill":null,"strokeWidth":1},
 "encoding":{"x":{"field":"d","type":"temporal"},"x2":{"field":"e"},"y":{"field":"y","type":"quantitative"},"y2":{"field":"y2"},
  "stroke":{"field":"k","type":"nominal","scale":{"domain":["a","b","c"],"range":["#6e6e6e","#8c8c8c","#a8a8a8"]},"legend":null},
  "strokeDash":{"field":"k","type":"nominal","scale":{"domain":["a","b","c"],"range":[[1,0],[3,2],[2,2]]},"legend":null}}},
{"data":{"name":"wb"},"mark":{"type":"rect","fill":"white","stroke":null},
 "encoding":{"x":{"field":"d","type":"temporal"},"x2":{"field":"e"},"y":{"field":"y","type":"quantitative"},"y2":{"field":"y2"}}},
{"data":{"name":"tl"},"mark":{"type":"line","strokeWidth":1},
 "encoding":{"x":{"field":"d","type":"temporal"},"y":{"field":"y","type":"quantitative"},"detail":{"field":"g"},
  "color":{"field":"g","type":"nominal","scale":{"domain":["b1","b2","gr"],"range":["#1c1ce0","#1c1ce0","#22bb22"]},"legend":null}}},
{"data":{"name":"p"},"mark":{"type":"rule","color":"#000","strokeWidth":1},
 "encoding":{"x":{"field":"d","type":"temporal"},"y":{"field":"l","type":"quantitative"},"y2":{"field":"h"}}},
{"data":{"name":"p"},"mark":{"type":"tick","orient":"horizontal","size":3,"thickness":1,"xOffset":1.5,"color":"#000","opacity":1},
 "encoding":{"x":{"field":"d","type":"temporal"},"y":{"field":"c","type":"quantitative"}}},
{"data":{"name":"one"},"mark":{"type":"text","text":"Brent Blend (Future)","fontSize":15,"fontWeight":"bold","align":"left","baseline":"middle","color":"#000"},
 "encoding":{"x":{"datum":{"year":2013,"month":10,"date":2}},"y":{"datum":117.85}}},
{"data":{"name":"one"},"mark":{"type":"text","text":"Hoppenstedt-Charts","fontSize":11,"align":"left","baseline":"middle","color":"#8a8a8a"},
 "encoding":{"x":{"datum":{"year":2014,"month":7,"date":2}},"y":{"datum":118.3}}},
{"data":{"name":"one"},"mark":{"type":"text","text":"www.chartbuero.de","fontSize":10.5,"align":"left","baseline":"middle","color":"#8a8a8a"},
 "encoding":{"x":{"datum":{"year":2013,"month":7,"date":7}},"y":{"datum":96.8}}}
]
},
{
"width":688,"height":110,
"layer":[
{"data":{"name":"one"},"mark":{"type":"rule","color":"#0000ff","strokeWidth":1},
 "encoding":{"y":{"datum":0,"type":"quantitative","scale":{"domain":[-1.996,2.202],"nice":false,"zero":false},
   "axis":{"orient":"right","values":[-1.5,-1,-0.5,0,0.5,1,1.5,2],"tickCount":100,"labelExpr":"datum.value % 1 == 0 ? '' + datum.value : ''","labelOverlap":false,"grid":false,"tickSize":4,"labelPadding":28,"labelAlign":"right","labelFontSize":11.5,"domainColor":"#000","tickColor":"#000","title":null}}}},
{"data":{"name":"s"},"mark":{"type":"line","color":"#000","strokeWidth":1,"strokeDash":[3,3],"interpolate":"monotone"},
 "encoding":{
  "x":{"field":"d","type":"temporal","scale":{"domain":[{"year":2013,"month":6,"date":30},{"year":2014,"month":10,"date":1}],"nice":false},
   "axis":{"orient":"top","values":[{"year":2013,"month":7,"date":1},{"year":2013,"month":8,"date":1},{"year":2013,"month":9,"date":1},{"year":2013,"month":10,"date":1},{"year":2013,"month":11,"date":1},{"year":2013,"month":12,"date":1},{"year":2014,"month":1,"date":1},{"year":2014,"month":2,"date":1},{"year":2014,"month":3,"date":1},{"year":2014,"month":4,"date":1},{"year":2014,"month":5,"date":1},{"year":2014,"month":6,"date":1},{"year":2014,"month":7,"date":1},{"year":2014,"month":8,"date":1},{"year":2014,"month":9,"date":1},{"year":2014,"month":10,"date":1}],
    "tickCount":100,"grid":true,"gridDash":[4,3],"gridColor":"#a8a8a8","labels":false,"ticks":false,"domain":true,"domainColor":"#000","title":null}},
  "y":{"field":"y","type":"quantitative"}}},
{"data":{"name":"m"},"mark":{"type":"line","color":"#ff0000","strokeWidth":1.3,"interpolate":"monotone"},
 "encoding":{"x":{"field":"d","type":"temporal"},"y":{"field":"y","type":"quantitative"}}},
{"data":{"name":"one"},"mark":{"type":"rule","color":"#707070","strokeWidth":1},"encoding":{"y":{"datum":-1.88}}},
{"data":{"name":"one"},"mark":{"type":"text","text":"MACD (12/26/9)","fontSize":11.5,"align":"left","baseline":"middle","color":"#000"},
 "encoding":{"x":{"datum":{"year":2014,"month":1,"date":27}},"y":{"datum":1.32}}}
]
},
{
"width":688,"height":65,
"layer":[
{"data":{"name":"p"},"mark":{"type":"rule","color":"#0000ff","strokeWidth":1},
 "encoding":{
  "x":{"field":"d","type":"temporal","scale":{"domain":[{"year":2013,"month":6,"date":30},{"year":2014,"month":10,"date":1}],"nice":false},
   "axis":{"values":[{"year":2013,"month":7,"date":1},{"year":2013,"month":8,"date":1},{"year":2013,"month":9,"date":1},{"year":2013,"month":10,"date":1},{"year":2013,"month":11,"date":1},{"year":2013,"month":12,"date":1},{"year":2014,"month":1,"date":1},{"year":2014,"month":2,"date":1},{"year":2014,"month":3,"date":1},{"year":2014,"month":4,"date":1},{"year":2014,"month":5,"date":1},{"year":2014,"month":6,"date":1},{"year":2014,"month":7,"date":1},{"year":2014,"month":8,"date":1},{"year":2014,"month":9,"date":1},{"year":2014,"month":10,"date":1}],
    "tickCount":100,"labelExpr":"['2014','February','','April','May','June','July','August','September','','November',''][month(datum.value)]",
    "grid":true,"gridDash":[4,3],"gridColor":"#a8a8a8","domainColor":"#000","tickColor":"#000","tickSize":16,"labelPadding":-14,"labelAlign":"left","labelBaseline":"top","labelOffset":2,"labelFontSize":11.5,"labelOverlap":false,"labelBound":false,"labelFlush":false,"title":null}},
  "y":{"field":"v","type":"quantitative","scale":{"domain":[-72,4204],"nice":false,"zero":false},
   "axis":{"orient":"right","values":[500,1000,1500,2000,2500,3000,3500,4000],"tickCount":100,"labelExpr":"datum.value % 1000 == 0 && datum.value < 4000 ? '' + datum.value : ''","labelOverlap":false,"grid":false,"tickSize":4,"labelPadding":28,"labelAlign":"right","labelFontSize":11,"domainColor":"#000","tickColor":"#000","title":null}},
  "y2":{"datum":0}}},
{"data":{"name":"one"},"mark":{"type":"rule","color":"#000","strokeWidth":1},"encoding":{"y":{"datum":4204}}},
{"data":{"name":"one"},"mark":{"type":"text","text":"Umsätze an der NYSE Intercontinental Exchange (ICE )","fontSize":11,"align":"left","baseline":"middle","color":"#3c3cff"},
 "encoding":{"x":{"datum":{"year":2013,"month":7,"date":5}},"y":{"datum":849}}},
{"data":{"name":"one"},"mark":{"type":"rect","fill":"white","stroke":"#000","strokeWidth":1},
 "encoding":{"x":{"datum":{"year":2014,"month":10,"date":1}},"x2":{"datum":{"year":2014,"month":10,"date":14}},"y":{"datum":590},"y2":{"datum":-60}}},
{"data":{"name":"one"},"mark":{"type":"text","text":"x100","fontSize":9,"align":"center","baseline":"middle","color":"#000"},
 "encoding":{"x":{"datum":{"year":2014,"month":10,"date":7,"hours":12}},"y":{"datum":265}}}
]
}
]
}
